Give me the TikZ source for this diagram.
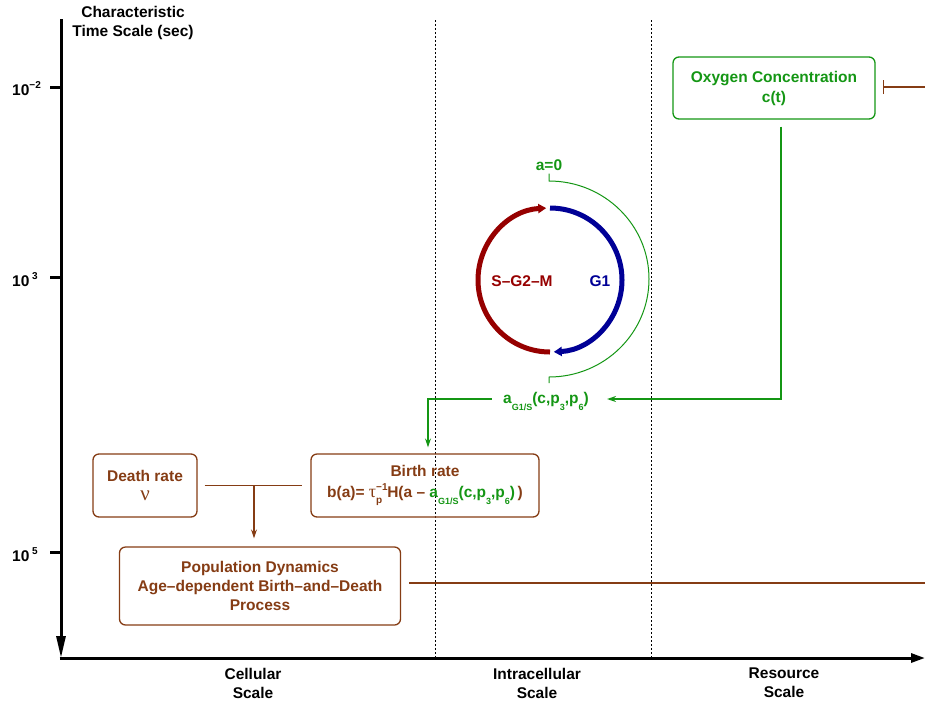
\documentclass[tikz,border=0pt]{standalone}
\usepackage{fontspec}
\setmainfont{Liberation Sans}
\newfontfamily\greekf{Liberation Serif}
\usetikzlibrary{arrows.meta,calc}
\definecolor{brn}{RGB}{133,60,20}
\definecolor{grn}{RGB}{20,150,20}
\definecolor{dred}{RGB}{150,0,0}
\definecolor{dblue}{RGB}{0,0,150}
\newcommand\lsub[1]{\raisebox{-0.45em}{\fontsize{9}{9}\selectfont #1}}
\newcommand\lsup[1]{\raisebox{0.42em}{\fontsize{10}{10}\selectfont #1}}
\begin{document}
\begin{tikzpicture}[x=1pt,y=-1pt,
  font=\fontsize{15.5}{19}\selectfont\bfseries,
  box/.style={draw, rounded corners=6pt, line width=1.3pt, inner sep=0pt, align=center},
  conn/.style={line width=1.3pt},
  tip/.style={-{Stealth[length=9pt,width=6pt]}},
  axis/.style={line width=3pt},
  sep/.style={line width=0.8pt, dash pattern=on 2pt off 2pt},
  lbl/.style={inner sep=0pt, align=center}]
\useasboundingbox (0,0) rectangle (925,702);

% axes
\draw[axis, -{Triangle[length=22pt,width=9pt]}] (61,19) -- (61,658);
\draw[axis, -{Triangle[length=14pt,width=9pt]}] (59.5,658) -- (925,658);
\draw[axis] (50,87) -- (61,87);
\draw[axis] (50,277) -- (61,277);
\draw[axis] (50,552) -- (61,552);
\node[lbl, anchor=base west] (t1) at (12,95) {10\lsup{−2}};
\node[lbl, anchor=base west] (t2) at (12,286) {10\,\lsup{3}};
\node[lbl, anchor=base west] (t3) at (12,561) {10\,\lsup{5}};
\node[lbl, font=\fontsize{15.5}{19}\selectfont\bfseries] (title) at (133,23) {Characteristic\\Time Scale (sec)};

% separators
\draw[sep] (435,20) -- (435,658);
\draw[sep] (651,20) -- (651,658);

% scale labels
\node[lbl] (s1) at (253,683) {Cellular\\Scale};
\node[lbl] (s2) at (537,683) {Intracellular\\Scale};
\node[lbl] (s3) at (784,683) {Resource\\Scale};

% boxes
\node[box, grn, minimum width=202pt, minimum height=62pt, font=\fontsize{15.5}{20}\selectfont\bfseries] (ox) at (774,88) {Oxygen Concentration\\c(t)};
\node[box, brn, minimum width=228pt, minimum height=63pt, font=\fontsize{15.5}{21}\selectfont\bfseries] (birth) at (425,485.5)
  {Birth rate\\b(a)= {\greekf\mdseries\fontsize{18}{18}\selectfont τ}\makebox[0pt][l]{\raisebox{0.45em}{\fontsize{10}{10}\selectfont −1}}\raisebox{-0.4em}{\fontsize{10}{10}\selectfont p}\kern5pt H(a – {\color{grn}a\lsub{G1/S}(c,p\lsub{3},p\lsub{6})}\,)};
\node[box, brn, minimum width=104pt, minimum height=63pt, font=\fontsize{15.5}{19}\selectfont\bfseries] (death) at (145,485.5)
  {Death rate\\{\greekf\mdseries\fontsize{21}{19}\selectfont ν}};
\node[box, brn, minimum width=281pt, minimum height=78pt, font=\fontsize{15.5}{19}\selectfont\bfseries] (pop) at (260,586)
  {Population Dynamics\\Age–dependent Birth–and–Death\\Process};

% cell cycle
\draw[dred, line width=5pt, -{Triangle[length=8pt,width=9pt]}] (550,280) ++(90:72) arc[start angle=90, end angle=267, radius=72];
\draw[dblue, line width=5pt, -{Triangle[length=8pt,width=9pt]}] (550,280) ++(270:72) arc[start angle=270, end angle=447, radius=72];
\node[lbl, dred] (sg) at (522,281) {S–G2–M};
\node[lbl, dblue] (g1) at (600,281) {G1};
\node[lbl, grn] (a0) at (549,165) {a=0};
\node[lbl, grn] (aG) at (546,401) {a\lsub{G1/S}(c,p\lsub{3},p\lsub{6})};
\coordinate (gtop) at (549,181);
\coordinate (gbot) at (549,383);
\draw[grn, line width=1pt] (a0.south) ++(0,3) -- (gtop) arc[start angle=270, end angle=450, x radius=100, y radius=98] -- (gbot);

% connectors
\coordinate (turn1) at (781,399);
\coordinate (turn2) at (428,399);
\draw[grn, conn, tip, shorten <=7pt, shorten >=18pt] (ox.south -| turn1) -- (turn1) -- (aG.east |- turn1);
\draw[grn, conn, tip, shorten <=11pt, shorten >=6pt] (aG.west |- turn2) -- (turn2) -- (turn2 |- birth.north);
\coordinate (oxR) at (925,87);
\draw[brn, conn, {Bar[width=14pt]}-, shorten <=7pt] (ox.east |- oxR) -- (oxR);
\draw[brn, conn, shorten <=7pt, shorten >=8pt] (death) -- (birth);
\coordinate (jn) at (254,485.5);
\draw[brn, conn, tip, shorten >=8pt] (jn) -- (jn |- pop.north);
\coordinate (popR) at (925,583);
\draw[brn, conn, shorten <=8pt] (pop.east |- popR) -- (popR);
\end{tikzpicture}
\end{document}
